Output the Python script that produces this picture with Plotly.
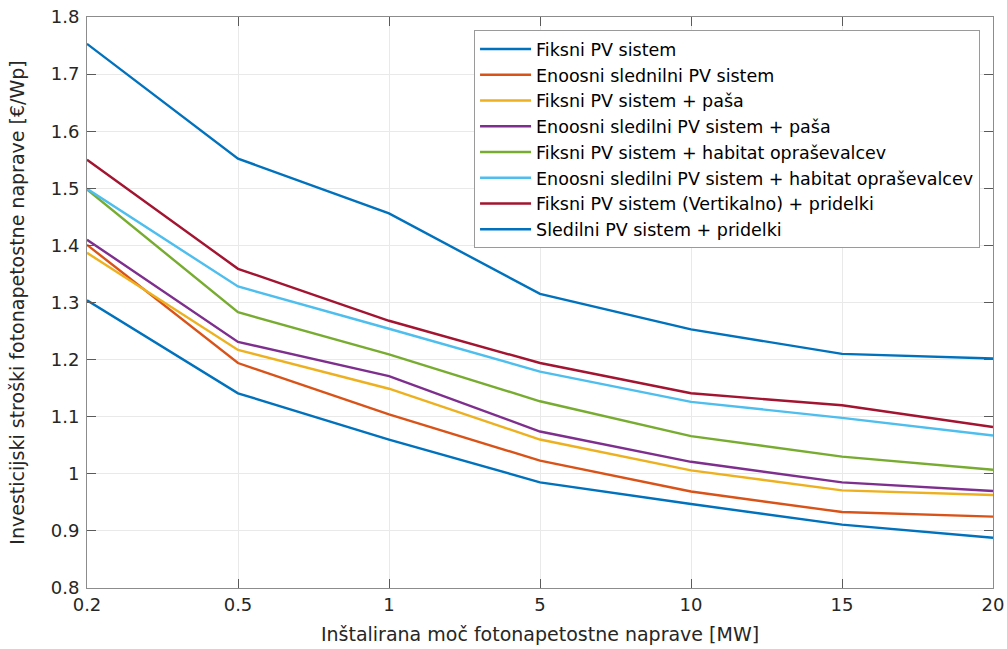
import plotly.graph_objects as go

categories = ["0.2", "0.5", "1", "5", "10", "15", "20"]

series_names = [
    "Fiksni PV sistem",
    "Enoosni slednilni PV sistem",
    "Fiksni PV sistem + paša",
    "Enoosni sledilni PV sistem + paša",
    "Fiksni PV sistem + habitat opraševalcev",
    "Enoosni sledilni PV sistem + habitat opraševalcev",
    "Fiksni PV sistem (Vertikalno) + pridelki",
    "Sledilni PV sistem + pridelki",
]

fiksni = [1.304, 1.141, 1.060, 0.985, 0.947, 0.911, 0.888]
enoosni = [1.401, 1.194, 1.104, 1.023, 0.969, 0.933, 0.925]
fiksni_pasa = [1.387, 1.217, 1.149, 1.060, 1.006, 0.971, 0.963]
enoosni_pasa = [1.410, 1.231, 1.171, 1.074, 1.021, 0.985, 0.970]
fiksni_habitat = [1.498, 1.283, 1.209, 1.127, 1.066, 1.030, 1.007]
enoosni_habitat = [1.499, 1.328, 1.254, 1.179, 1.126, 1.098, 1.067]
fiksni_vert = [1.550, 1.359, 1.268, 1.194, 1.141, 1.120, 1.082]
sledilni_pridelki = [1.753, 1.552, 1.456, 1.315, 1.253, 1.210, 1.202]

all_series = [fiksni, enoosni, fiksni_pasa, enoosni_pasa, fiksni_habitat,
              enoosni_habitat, fiksni_vert, sledilni_pridelki]

colors = ["#0072BD", "#D95319", "#EDB120", "#7E2F8E", "#77AC30",
          "#4DBEEE", "#A2142F", "#0072BD"]

y_ticks = [0.8, 0.9, 1.0, 1.1, 1.2, 1.3, 1.4, 1.5, 1.6, 1.7, 1.8]
y_ticktext = ["0.8", "0.9", "1", "1.1", "1.2", "1.3", "1.4", "1.5", "1.6", "1.7", "1.8"]

fig = go.Figure()
for name, vals, c in zip(series_names, all_series, colors):
    fig.add_trace(go.Scatter(x=categories, y=vals, mode="lines", name=name,
                             line=dict(color=c, width=2.4)))

font_family = "DejaVu Sans"
fig.update_layout(
    width=1007, height=649,
    margin=dict(l=87, r=14, t=17, b=61, autoexpand=False),
    paper_bgcolor="white", plot_bgcolor="white",
    font=dict(family=font_family, color="#262626"),
    showlegend=True,
    legend=dict(
        x=0.9857, y=0.977, xanchor="right", yanchor="top",
        bgcolor="white", bordercolor="#9a9a9a", borderwidth=1,
        font=dict(family=font_family, size=17.5, color="#000000"),
        tracegroupgap=0, itemwidth=51,
    ),
    xaxis=dict(
        type="category", categoryorder="array", categoryarray=categories,
        range=[0, 6], automargin=False,
        showline=True, linecolor="#8c8c8c", linewidth=1, mirror="ticks",
        ticks="inside", ticklen=9, tickcolor="#5a5a5a", tickwidth=1,
        showgrid=True, gridcolor="#e9e9e9", gridwidth=1,
        zeroline=False,
        tickfont=dict(size=18, color="#262626"),
        title=dict(text="Inštalirana moč fotonapetostne naprave [MW]",
                   font=dict(size=19, color="#262626"), standoff=14),
    ),
    yaxis=dict(
        range=[0.8, 1.8], automargin=False,
        tickvals=y_ticks, ticktext=y_ticktext,
        showline=True, linecolor="#8c8c8c", linewidth=1, mirror="ticks",
        ticks="inside", ticklen=9, tickcolor="#5a5a5a", tickwidth=1,
        showgrid=True, gridcolor="#e9e9e9", gridwidth=1,
        zeroline=False,
        tickfont=dict(size=18, color="#262626"),
        ticklabelstandoff=3,
        title=dict(text="Investicijski stroški fotonapetostne naprave [€/Wp]",
                   font=dict(size=19, color="#262626"), standoff=21),
    ),
)

fig.write_html("out.html")
